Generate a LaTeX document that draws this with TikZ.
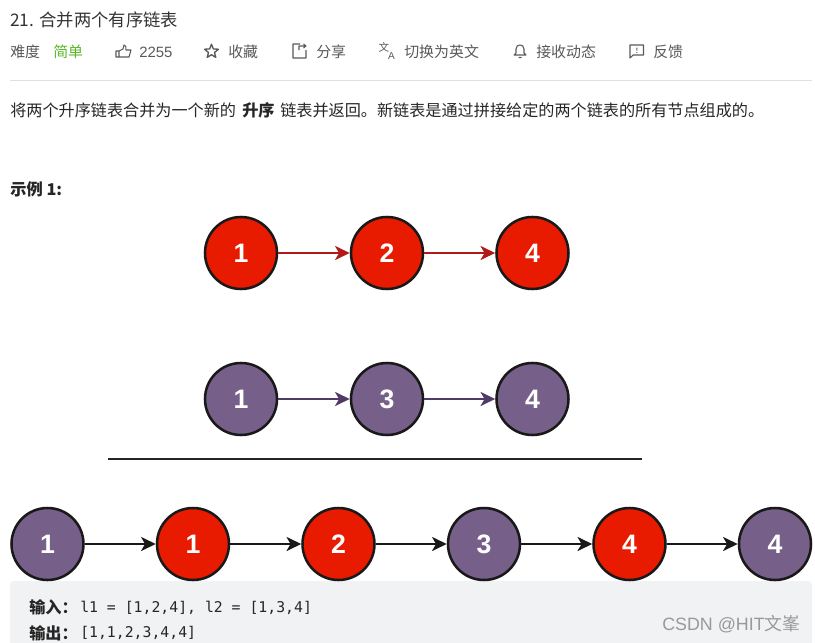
\documentclass[tikz,border=0pt]{standalone}
\usepackage{fontspec}
\setmainfont{Noto Sans CJK SC}
\setsansfont{Liberation Sans}
\setmonofont{DejaVu Sans Mono}
\usetikzlibrary{arrows.meta,positioning,calc,shapes.geometric}
\definecolor{nodered}{HTML}{E81B00}
\definecolor{nodepurple}{HTML}{76608A}
\definecolor{arrowred}{HTML}{B21A1A}
\definecolor{arrowpurple}{HTML}{4F3A68}
\definecolor{toolgray}{HTML}{595959}
\definecolor{easygreen}{HTML}{5AB726}
\definecolor{codebg}{HTML}{F1F2F4}
\tikzset{
  listnode/.style={circle,draw=black!90,line width=1.9pt,minimum size=54pt,inner sep=0pt,text=white,font=\sffamily\bfseries\fontsize{20}{20}\selectfont},
  rednode/.style={listnode,fill=nodered},
  purplenode/.style={listnode,fill=nodepurple},
  listarrow/.style={line width=1.7pt,-{Stealth[length=11pt,width=10.5pt,inset=3pt]}},
  tooltext/.style={anchor=west,inner sep=0pt,text=toolgray,font=\fontsize{11.2}{12}\selectfont},
  bodytext/.style={anchor=west,inner sep=0pt,text=black!85,font=\fontsize{12.1}{13}\selectfont},
  codetext/.style={anchor=west,inner sep=0pt,text=black!85,font=\ttfamily\fontsize{11.1}{12}\selectfont},
  toolicon/.style={draw=toolgray,line width=0.8pt,line join=round}
}
\begin{document}
\begin{tikzpicture}[x=0.75pt,y=-0.75pt]
\useasboundingbox (0,0) rectangle (815,643);
\node[anchor=west,inner sep=0pt,text=black!80,font=\fontsize{13}{14}\selectfont] (title) at (10,20) {21. 合并两个有序链表};
\node[tooltext] (level) at (10,52) {难度};
\node[tooltext,text=easygreen] (easy) at (53,52) {简单};
\draw[toolicon] (116,51) -- (119,51) -- (119,57) -- (116,57) -- cycle (119,51) -- (123,49) -- (124,45) .. controls (126,45) and (126,47) .. (126,50) -- (131,50) -- (129,57) -- (119,57);
\node[tooltext,font=\sffamily\fontsize{11.2}{12}\selectfont] (likes) at (139,52) {2255};
\node[star,star points=5,star point ratio=2.3,toolicon,minimum size=11pt,inner sep=0pt,line width=1pt] (staricon) at (211.5,51.5) {};
\node[tooltext] (favor) at (228,52) {收藏};
\draw[toolicon] (300,44) -- (293,44) -- (293,58) -- (306,58) -- (306,50) (299,50) -- (299,46) -- (306,46) (303.5,44) -- (306,46) -- (303.5,48);
\node[tooltext] (share) at (316,52) {分享};
\node[anchor=center,inner sep=0pt,text=toolgray,font=\fontsize{8}{8}\selectfont] (transa) at (384,47.5) {文};
\node[anchor=center,inner sep=0pt,text=toolgray,font=\sffamily\fontsize{7.5}{8}\selectfont] (transb) at (391.5,56) {A};
\node[tooltext] (english) at (404,52) {切换为英文};
\draw[toolicon] (514,55) -- (516,53) -- (516,49) .. controls (516,46) and (518,45) .. (520,45) .. controls (522,45) and (524,46) .. (524,49) -- (524,53) -- (526,55) -- cycle (518.5,57.5) -- (521.5,57.5);
\node[tooltext] (notice) at (536,52) {接收动态};
\draw[toolicon] (630,45) -- (643.5,45) -- (643.5,55) -- (633,55) -- (630,58) -- cycle (636.8,47.5) -- (636.8,50.5) (636.8,52) -- (636.8,53);
\node[tooltext] (feedback) at (653,52) {反馈};
\draw[black!12,line width=0.8pt] (10,80.5) -- (812,80.5);
\node[bodytext] (desca) at (10,110) {将两个升序链表合并为一个新的};
\node[bodytext,font=\bfseries\fontsize{12.1}{13}\selectfont] (descb) at (242,110) {升序};
\node[bodytext] (descc) at (280,110) {链表并返回。新链表是通过拼接给定的两个链表的所有节点组成的。};
\node[bodytext,font=\bfseries\fontsize{12.2}{13}\selectfont] (example) at (10,189) {示例 1:};
\node[rednode] (aone) at (241,253) {1};
\node[rednode] (atwo) at (387,253) {2};
\node[rednode] (afour) at (532.5,253) {4};
\draw[listarrow,draw=arrowred] (aone) -- (atwo);
\draw[listarrow,draw=arrowred] (atwo) -- (afour);
\node[purplenode] (bone) at (241,399) {1};
\node[purplenode] (bthree) at (387,399) {3};
\node[purplenode] (bfour) at (532.5,399) {4};
\draw[listarrow,draw=arrowpurple] (bone) -- (bthree);
\draw[listarrow,draw=arrowpurple] (bthree) -- (bfour);
\draw[black!85,line width=1.9pt] (108,459) -- (642,459);
\fill[codebg,rounded corners=3pt] (10,581) rectangle (812,650);
\node[purplenode] (cone) at (47.5,544) {1};
\node[rednode] (ctwo) at (193,544) {1};
\node[rednode] (cthree) at (338.5,544) {2};
\node[purplenode] (cfour) at (484,544) {3};
\node[rednode] (cfive) at (629.5,544) {4};
\node[purplenode] (csix) at (775,544) {4};
\draw[listarrow,draw=black!90] (cone) -- (ctwo);
\draw[listarrow,draw=black!90] (ctwo) -- (cthree);
\draw[listarrow,draw=black!90] (cthree) -- (cfour);
\draw[listarrow,draw=black!90] (cfour) -- (cfive);
\draw[listarrow,draw=black!90] (cfive) -- (csix);
\node[bodytext,font=\bfseries\fontsize{12.1}{13}\selectfont] (inlabel) at (29,607.5) {输入：};
\node[codetext] (incode) at (80,607.5) {l1 = [1,2,4], l2 = [1,3,4]};
\node[bodytext,font=\bfseries\fontsize{12.1}{13}\selectfont] (outlabel) at (29,633) {输出：};
\node[codetext] (outcode) at (80,633) {[1,1,2,3,4,4]};
\node[anchor=west,inner sep=0pt,text=black!40,font=\fontsize{13.4}{14}\selectfont] (mark) at (662,624) {{\sffamily CSDN @HIT}文峯};
\end{tikzpicture}
\end{document}
